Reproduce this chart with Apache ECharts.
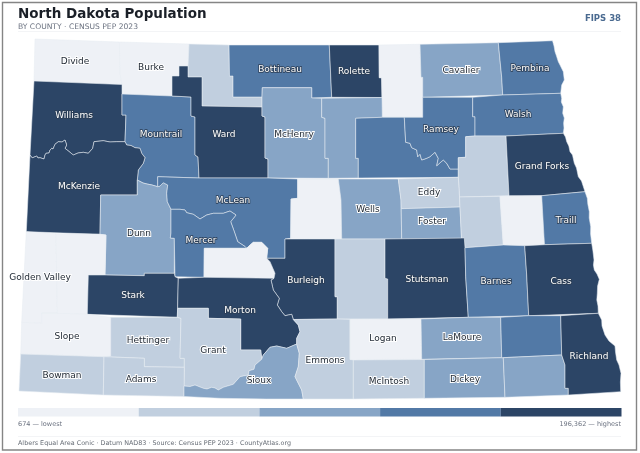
<!DOCTYPE html>
<html>
<head>
<meta charset="utf-8">
<title>North Dakota Population</title>
<script src="https://cdn.jsdelivr.net/npm/echarts@6/dist/echarts.min.js"></script>
<style>
html,body{margin:0;padding:0;background:#fff}
#map{width:640px;height:453px}
</style>
</head>
<body>
<div id="map"></div>
<script>
var FONT = '"DejaVu Sans", sans-serif';

// population by county, estimated from the colour class in the picture
var countyNames = ['Divide','Burke','Renville','Bottineau','Rolette','Towner','Cavalier','Pembina','Williams','Mountrail','Ward','McHenry','Pierce','Benson','Ramsey','Walsh','Nelson','Grand Forks','McKenzie','Dunn','McLean','Sheridan','Wells','Eddy','Foster','Griggs','Steele','Traill','Mercer','Oliver','Burleigh','Kidder','Stutsman','Barnes','Cass','Golden Valley','Billings','Stark','Morton','Slope','Hettinger','Grant','Bowman','Adams','Sioux','Emmons','Logan','McIntosh','LaMoure','Dickey','Ransom','Sargent','Richland'];
var countyPops = [2100,1900,2300,6300,11800,2100,3600,6700,41000,9400,69000,5200,3900,5800,11500,10200,3000,73000,14700,3900,9700,1250,3900,2300,3400,2300,1800,7900,8300,1800,100000,2400,21600,10600,196362,1700,950,33800,34000,674,2400,2200,2900,2190,3700,3200,1800,2500,4000,4900,5600,3800,16500];
var unlabeled = ['Renville','Towner','Pierce','Benson','Nelson','Griggs','Steele','Sheridan','Oliver','Kidder','Billings','Ransom','Sargent'];

var classBreaks = [674,2150,3300,5500,11600,196362];
var classColors = ['#eef1f6','#c1cfdf','#87a5c6','#5279a6','#2c4566'];

var titleText = 'North Dakota Population';
var subtitleText = 'BY COUNTY · CENSUS PEP 2023';
var fipsText = 'FIPS 38';
var lowText = '674 — lowest';
var highText = '196,362 — highest';
var footerText = 'Albers Equal Area Conic · Datum NAD83 · Source: Census PEP 2023 · CountyAtlas.org';

// shared river lines
var littleMoWest = [[30,155],[31.5,157.2],[32.7,157.7],[36.7,156],[38,158],[40,157.7],[44,159],[45,155],[46,153.3],[49,153],[50,150],[51.7,148.3],[53,149],[55,144.3],[58.3,141.7],[62,142],[65,140],[66.7,145],[65,148.3],[70,152.3],[73.3,155],[78,153],[83.3,152.3],[88.3,153.3],[92.7,148.3],[94,141.7],[103.3,140.7],[110,142],[116.7,141.7],[125,141.7]];
var littleMoEast = [[125,141.7],[126.7,145],[131,145.5],[135,147.7],[140,148.3],[141.7,153.3],[145,157.7],[143.3,163.3],[138.3,170],[137.3,180]];
var dunnTop = [[137.3,180],[143,183],[147,184],[152,185],[157.7,186.7]];
var mcleanWest = [[157.7,186.7],[160,186],[163.3,182.7],[167.7,185],[166.7,193.3],[167.3,201.7],[171,209.3]];
var mcleanSouth = [[171,209.3],[180,209.3],[185,210],[186.7,212.7],[193.3,214.3],[200,219],[206.7,215],[213.3,213.3],[223.3,213.3],[230,211],[236,215],[230.7,221.7],[234.3,231.7],[237.7,241.7],[245,246.5],[246.7,248.3]];
var oliverBulge = [[246.7,248.3],[250,245],[253.3,242.3],[261.7,242.3],[267.7,248.3],[266.7,258.3]];
var oliverEast = [[266.7,258.3],[270,261.7],[275,273.3],[274,278.3]];
var burleighWest = [[274,278.3],[271,280],[273.3,290],[279.3,298.3],[277.3,305],[281.7,311.7],[285,315.7],[291.7,314.3],[293.3,319.5]];
var emmonsNorth = [[293.3,319.5],[298.3,325],[300,331.7],[296.7,338.3],[296.7,344]];
var siouxTop = [[296.7,344],[286.7,348.3],[276.7,346],[270,347.3],[263.3,355],[261.7,359.3]];
var grantSouth = [[261.7,359.3],[255,365],[254,369.3],[249,370.7],[248.3,375],[240,376.7],[233.3,384.3],[223.3,387.3],[218.3,390],[215,388],[211.7,387.3],[207,389],[203.3,388.3],[195,385],[190,386.5],[184,386]];
var emmonsWest = [[296.7,344],[299.3,353.3],[298.3,366.7],[295,376.7],[301.7,390],[303.3,399]];
var devilsLake = [[404.3,117.3],[405.7,142.3],[410,143.3],[411.7,147.7],[416.7,150],[417.7,156.7],[420,154.3],[421.7,160],[426.7,158.3],[430,156.7],[435,152.3],[438.3,158.3],[436.7,165.7],[443.3,160],[446.7,163.3],[450,169],[458.3,169]];
var redPembina = [[552.5,40.7],[554,46],[555,51.7],[556.5,56],[558.3,61.7],[560,65],[563.3,71.7],[564.3,80],[561.7,85],[561.2,89],[560.7,93.3]];
var redWalsh = [[560.7,93.3],[561.7,98.3],[561.3,102],[563.3,106.7],[562.7,113.3],[564.3,118],[563.6,123.3],[564,128],[563.3,133.3]];
var redGrandForks = [[563.3,133.3],[565.5,137],[566.7,141.7],[568.8,146],[570,151.7],[572.5,155],[574.3,163.3],[576.5,168],[578.3,176.7],[581.5,181],[585,191.7]];
var redTraill = [[585,191.7],[587.3,198.3],[587.8,204],[589.3,211.7],[589.2,218],[590.7,226.7],[590.6,234],[591.7,243.3]];
var redCass = [[591.7,243.3],[592.8,250],[594,260],[593.4,265],[594.3,270],[597,274],[599.3,279.3],[597.6,286],[597.3,293.3],[596.8,300],[598,306],[598.3,313.3]];
var redRichland = [[598.3,313.3],[601.7,320],[602,326],[605,335],[609,341],[615,346],[615.5,352],[616.7,360],[619,365],[621,373.3],[620.4,382],[620.7,391.7]];

function back(line){ return line.slice().reverse(); }

// county outlines, in the map's own units
var countyRings = {
  'Divide': [[35,39],[119.3,42],[120,74],[122,84.5],[34,81]],
  'Burke': [[119.3,42],[189,44],[188,66],[179,66],[179,76],[172,76],[172,96],[122,94],[122,84.5],[120,74]],
  'Renville': [[189,44],[229,45],[229.5,76],[233,76],[233,97],[262,97],[262,107],[202,106],[202,77],[188,77],[188,66]],
  'Bottineau': [[229,45],[329.3,45],[331.7,97.3],[311.7,98],[311.7,87.7],[262.3,87.7],[262,97],[233,97],[233,76],[229.5,76]],
  'Rolette': [[329.3,45],[379,45],[379.3,77.7],[381.7,77.7],[382,97.5],[331.7,97.3]],
  'Towner': [[379,45],[420,44.3],[421,77.3],[422.7,77.3],[422.7,117.3],[382.3,117.3],[382,97.5],[381.7,77.7],[379.3,77.7]],
  'Cavalier': [[420,44.3],[498.3,42.7],[501.7,77.3],[502.7,95],[422.7,97.3],[422.7,77.3],[421,77.3]],
  'Pembina': [[498.3,42.7]].concat(redPembina,[[502.7,95],[501.7,77.3]]),
  'Williams': [[34,81],[122,84.5],[122,94],[122,115],[126,115]].concat(back(littleMoWest)),
  'Mountrail': [[122,94],[172,96],[191,97],[191,116],[195,117],[195,155],[198,157],[199,178],[157.7,176.7]].concat(back(dunnTop),back(littleMoEast),[[126,115],[122,115]]),
  'Ward': [[172,76],[179,76],[179,66],[188,66],[188,77],[202,77],[202,106],[262,107],[262,116],[265,117],[265,158],[268,159],[268,178],[199,178],[198,157],[195,155],[195,117],[191,116],[191,97],[172,96]],
  'McHenry': [[262.3,87.7],[311.7,87.7],[311.7,98],[321.7,98.3],[321.7,117.3],[325,118.3],[325,158.3],[328.3,158.3],[328.3,178.3],[268,178],[268,159],[265,158],[265,117],[262,116],[262,107],[262,97]],
  'Pierce': [[321.7,98.3],[382,97.5],[382.3,117.3],[355.7,118.3],[355.7,158.3],[358.3,158.3],[358.3,178],[328.3,178.3],[328.3,158.3],[325,158.3],[325,118.3],[321.7,117.3]],
  'Benson': [[355.7,118.3],[382.3,117.3]].concat(devilsLake,[[458.3,177.3],[358.3,178],[358.3,158.3],[355.7,158.3]]),
  'Ramsey': [[422.7,97.3],[472.7,97.3],[472.7,116.7],[475,116.7],[475,136],[465.7,136.7],[465.7,157.3],[458.3,157.7],[458.3,169]].concat(back(devilsLake),[[422.7,117.3]]),
  'Walsh': [[472.7,97.3],[502.7,95]].concat(redWalsh,[[506,136],[475,136],[475,116.7],[472.7,116.7]]),
  'Nelson': [[465.7,136.7],[475,136],[506,136],[509,195.7],[459.5,197],[458.3,177.3],[458.3,157.7],[465.7,157.3]],
  'Grand Forks': [[506,136]].concat(redGrandForks,[[541.7,195.7],[509,195.7]]),
  'McKenzie': littleMoWest.concat(littleMoEast,[[137.3,195],[100.7,195],[100,234.3],[26.3,231.7]]),
  'Dunn': [[100.7,195],[137.3,195]].concat(dunnTop,mcleanWest,[[171,233],[170.3,238],[174.3,238.3],[174.3,273.3],[144.3,273.3],[144.3,275.7],[105,275],[106,235],[100,234.3]]),
  'McLean': [[157.7,176.7],[199,178],[268,178],[297.7,179],[297.7,198.3],[291,199],[290.7,238.3],[285,239],[285,258.3]].concat(back(oliverBulge),back(mcleanSouth),back(mcleanWest)),
  'Sheridan': [[297.7,179],[338.3,179],[341,200],[341.7,239],[290.7,238.3],[291,199],[297.7,198.3]],
  'Wells': [[338.3,179],[398.3,179],[401,200],[401.7,239],[341.7,239],[341,200]],
  'Eddy': [[398.3,179],[458.3,177.3],[459.5,197],[460,207],[401.2,208.7],[401,200]],
  'Foster': [[401.2,208.7],[460,207],[461.5,238.5],[401.7,239]],
  'Griggs': [[459.5,197],[500,196.3],[503.3,245],[465,247.7],[464.3,238.5],[461.5,238.5]],
  'Steele': [[500,196.3],[541.7,195.7],[544,236.7],[544.5,244.7],[524.7,245.7],[503.3,245]],
  'Traill': [[541.7,195.7]].concat(redTraill,[[544.5,244.7],[544,236.7]]),
  'Mercer': mcleanSouth.concat([[204.3,248.3],[204,277.3],[175,276.7],[174.3,238.3],[170.3,238],[171,233]]),
  'Oliver': [[204.3,248.3]].concat(oliverBulge,oliverEast,[[204,277.3]]),
  'Burleigh': [[285,239],[335,239],[335,296.7],[337.3,296.7],[337.3,319]].concat(back(burleighWest),back(oliverEast),[[285,258.3]]),
  'Kidder': [[335,239],[385,239],[385,278.3],[387.7,279],[387.7,319],[337.3,319],[337.3,296.7],[335,296.7]],
  'Stutsman': [[385,239],[464.3,238],[465,247.7],[465.7,276.7],[468.3,317.3],[387.7,319],[387.7,279],[385,278.3]],
  'Barnes': [[465,247.7],[503.3,245],[524.7,245.7],[526.7,275],[528.7,315.7],[468.3,317.3],[465.7,276.7]],
  'Cass': [[524.7,245.7],[544.5,244.7]].concat(redCass,[[528.7,315.7],[526.7,275]]),
  'Golden Valley': [[26.3,231.7],[56,233.7],[57.3,313.3],[41.7,313.3],[41.7,323.3],[21.7,322.3]],
  'Billings': [[56,233.7],[100,234.3],[106,235],[105,275],[88.3,275],[87.3,314.3],[57.3,313.3]],
  'Stark': [[88.3,275],[105,275],[144.3,275.7],[144.3,273.3],[174.3,273.3],[175,276.7],[178.3,278.3],[177.6,308.3],[177.3,317.3],[87.3,314.3]],
  'Morton': [[178.3,278.3],[204,277.3],[274,278.3]].concat(burleighWest,emmonsNorth,siouxTop,[[260.7,350],[240.7,350],[240.7,319],[208.3,318.3],[208.3,308.3],[177.6,308.3]]),
  'Slope': [[41.7,313.3],[57.3,313.3],[87.3,314.3],[110.7,317.3],[110.7,356],[104,356.7],[20.7,354],[21.7,322.3],[41.7,323.3]],
  'Hettinger': [[110.7,317.3],[177.3,317.3],[181,318.3],[180,358.3],[184.3,358.3],[184.3,367.3],[144.3,366.7],[144.3,358.3],[104,356.7],[110.7,356]],
  'Grant': [[177.6,308.3],[208.3,308.3],[208.3,318.3],[240.7,319],[240.7,350],[260.7,350],[261.7,359.3]].concat(grantSouth,[[184.3,367.3],[184.3,358.3],[180,358.3],[181,318.3],[177.3,317.3]]),
  'Bowman': [[20.7,354],[104,356.7],[103.3,395],[19,391]],
  'Adams': [[104,356.7],[144.3,358.3],[144.3,366.7],[184.3,367.3],[184,396.5],[103.3,395]],
  'Sioux': siouxTop.concat(grantSouth,[[184,396.5],[220,398.3],[266.7,399]],back(emmonsWest)),
  'Emmons': emmonsNorth.concat(emmonsWest.slice(1),[[353.3,399],[353.3,360],[350,359.5],[350,319.3],[337.3,319]]),
  'Logan': [[350,319.3],[387.7,319],[421,319],[421.7,359.3],[350,359.5]],
  'McIntosh': [[353.3,360],[424.3,359.5],[424.3,398.3],[353.3,399]],
  'LaMoure': [[421,319],[468.3,317.3],[500.7,317.3],[501.7,357.7],[421.7,359.3]],
  'Dickey': [[424.3,359.5],[503.3,357.7],[505,397.3],[424.3,398.3]],
  'Ransom': [[500.7,317.3],[528.7,315.7],[560.7,315.7],[561.7,355],[501.7,357.7]],
  'Sargent': [[503.3,357.7],[561.7,355],[565,365],[565,388.3],[568.3,388.3],[568.3,395],[505,397.3]],
  'Richland': [[560.7,315.7]].concat(redRichland,[[568.3,395],[568.3,388.3],[565,388.3],[565,365],[561.7,355]])
};

var labelSpots = {
  'Divide':[75,62],'Burke':[151,68],'Bottineau':[280,70],'Rolette':[354,72],'Cavalier':[461,71],'Pembina':[530,69],
  'Williams':[74,116],'Mountrail':[161,135],'Ward':[224,135],'McHenry':[294,135],'Ramsey':[441,130],'Walsh':[518,115],
  'Grand Forks':[542,167],'McKenzie':[79,187],'McLean':[233,201],'Eddy':[429,193],'Wells':[368,210],'Foster':[432,222],
  'Traill':[566,221],'Dunn':[139,234],'Mercer':[201,241],'Golden Valley':[40,278],'Burleigh':[306,281],'Stark':[133,296],
  'Morton':[240,311],'Slope':[67,337],'Hettinger':[148,341],'Grant':[213,351],'Bowman':[62,376],'Adams':[141,380],
  'Sioux':[259,381],'Emmons':[325,361],'Logan':[383,339],'Stutsman':[427,280],'Barnes':[496,282],'Cass':[561,282],
  'LaMoure':[462,338],'Richland':[589,357],'McIntosh':[389,382],'Dickey':[465,380]
};

function classOf(v){
  for (var i = 0; i < classColors.length - 1; i++) {
    if (v < classBreaks[i + 1]) return i;
  }
  return classColors.length - 1;
}

var geoJson = {
  type: 'FeatureCollection',
  features: countyNames.map(function(name){
    var ring = countyRings[name].slice();
    ring.push(ring[0]);
    var props = {name: name};
    if (labelSpots[name]) props.cp = labelSpots[name];
    return {type: 'Feature', properties: props, geometry: {type: 'Polygon', coordinates: [ring]}};
  })
};
echarts.registerMap('northDakota', geoJson);

var minX = Infinity, maxX = -Infinity, minY = Infinity, maxY = -Infinity;
countyNames.forEach(function(name){
  countyRings[name].forEach(function(p){
    minX = Math.min(minX, p[0]); maxX = Math.max(maxX, p[0]);
    minY = Math.min(minY, p[1]); maxY = Math.max(maxY, p[1]);
  });
});

var seriesData = countyNames.map(function(name, i){
  var dark = classOf(countyPops[i]) >= 3;
  return {
    name: name,
    value: countyPops[i],
    label: {
      show: unlabeled.indexOf(name) < 0,
      color: dark ? '#ffffff' : '#222b36',
      textBorderColor: dark ? '#2c3e55' : '#ffffff',
      textBorderWidth: dark ? 1.6 : 2
    }
  };
});

var myChart = echarts.init(document.getElementById('map'));
var option = {
  animation: false,
  backgroundColor: '#ffffff',
  title: [
    {text: titleText, left: 18, top: 7, padding: 0, textStyle: {fontFamily: FONT, fontSize: 13.5, fontWeight: 'bold', color: '#1a1f27'}},
    {text: subtitleText, left: 18, top: 23, padding: 0, textStyle: {fontFamily: FONT, fontSize: 7.6, fontWeight: 'normal', color: '#6b7280'}},
    {text: fipsText, right: 19, top: 14, padding: 0, textStyle: {fontFamily: FONT, fontSize: 8.5, fontWeight: 'bold', color: '#4a6a90'}},
    {text: lowText, left: 18, top: 421, padding: 0, textStyle: {fontFamily: FONT, fontSize: 6.5, fontWeight: 'normal', color: '#6b7280'}},
    {text: highText, right: 19, top: 421, padding: 0, textStyle: {fontFamily: FONT, fontSize: 6.5, fontWeight: 'normal', color: '#6b7280'}},
    {text: footerText, left: 18, top: 440, padding: 0, textStyle: {fontFamily: FONT, fontSize: 6.4, fontWeight: 'normal', color: '#666c75'}}
  ],
  graphic: [
    {type: 'rect', shape: {x: 2.5, y: 2.5, width: 634, height: 447.5}, style: {fill: 'none', stroke: '#858585', lineWidth: 1.4}, silent: true},
    {type: 'rect', shape: {x: 18, y: 31, width: 603, height: 1}, style: {fill: '#f3f4f6'}, silent: true},
    {type: 'rect', shape: {x: 18, y: 436, width: 603, height: 1}, style: {fill: '#f3f4f6'}, silent: true}
  ],
  visualMap: {
    type: 'piecewise',
    orient: 'horizontal',
    left: 18,
    top: 408,
    padding: 0,
    itemWidth: 120.7,
    itemHeight: 8.6,
    itemGap: 0,
    itemSymbol: 'rect',
    showLabel: false,
    selectedMode: false,
    hoverLink: false,
    seriesIndex: 0,
    pieces: classColors.map(function(c, i){
      return {gte: classBreaks[i], lt: classBreaks[i + 1] + (i === classColors.length - 1 ? 1 : 0), color: c};
    })
  },
  series: [{
    type: 'map',
    map: 'northDakota',
    silent: true,
    roam: false,
    left: minX,
    top: minY,
    width: maxX - minX,
    height: maxY - minY,
    projection: {
      project: function(p){ return p; },
      unproject: function(p){ return p; }
    },
    label: {show: true, formatter: '{b}', fontFamily: FONT, fontSize: 9},
    itemStyle: {borderColor: '#e8edf3', borderWidth: 0.55},
    data: seriesData
  }]
};
myChart.setOption(option);
</script>
</body>
</html>
